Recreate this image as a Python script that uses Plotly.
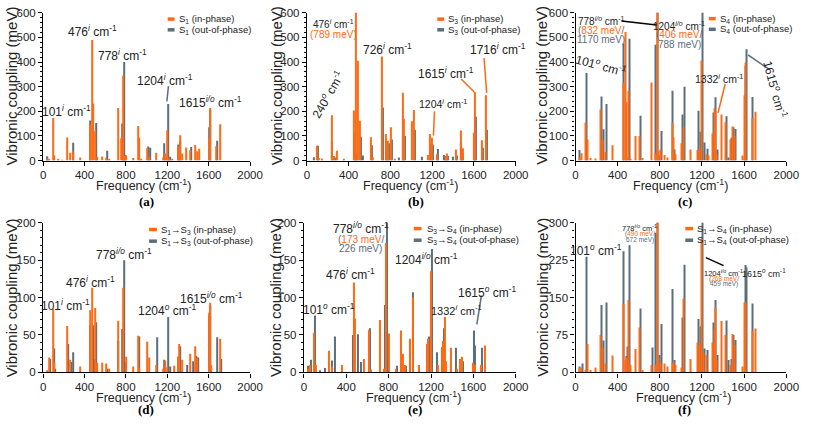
import plotly.graph_objects as go

# Shared vibrational mode frequencies (cm-1)
MODES = [38, 65, 85, 101, 115, 150, 190, 240, 265, 290, 360, 455, 476, 490, 510,
         530, 575, 615, 640, 726, 760, 778, 790, 810, 850, 875, 920, 935, 955, 1010,
         1030, 1095, 1165, 1180, 1190, 1204, 1220, 1250, 1270, 1305, 1320, 1332, 1345, 1390, 1430,
         1445, 1475, 1495, 1510, 1590, 1605, 1615, 1630, 1680, 1716]

A_IN = [3,6,0,173,20, 3,2,93,32,38, 12,145,490,232,120, 14,16,12,4,213, 90,345,18,20,0, 10,140,92,6,50,
        15,32,12,28,15, 123,5,7,0,57, 57,103,28,53,42, 0,63,38,48,0, 90,213,0,58,147]
A_OUT = [17,0,0,0,0, 0,0,0,0,72, 0,163,0,0,152, 0,0,40,0,0, 150,400,22,0,0, 0,0,0,0,57,
         52,0,70,0,0, 230,15,0,0,65, 78,0,0,0,55, 0,0,0,0,0, 135,205,0,80,0]
B_IN = [0,0,0,60,10, 8,0,184,18,40, 3,203,789,405,162, 0,0,95,13,422, 108,80,0,135,5, 0,275,170,0,160,
        205,0,22,108,0, 92,0,25,0,0, 0,18,28,0,45, 0,122,50,0,0, 113,278,0,82,265]
B_OUT = [0,13,0,60,0, 0,0,77,12,0, 0,113,25,0,97, 20,0,62,0,215, 78,70,0,85,0, 12,100,100,0,0,
         125,15,0,65,0, 65,0,47,0,22, 0,13,18,15,20, 0,70,30,0,0, 88,178,0,52,125]
C_IN = [12,30,0,153,85, 10,8,207,85,35, 62,315,522,238,282, 5,100,100,10,317, 30,832,40,45,22, 12,152,93,25,70,
        135,45,43,45,0, 406,0,25,20,110, 212,200,25,187,155, 0,85,138,100,20, 265,398,0,172,198]
C_OUT = [43,0,0,355,0, 0,0,260,127,230, 0,475,15,0,495, 0,0,182,0,0, 470,1170,20,120,0, 0,283,45,0,187,
         300,0,202,117,0, 788,73,48,0,195, 257,0,45,0,180, 12,92,135,128,0, 385,452,0,258,0]
D_IN = [3,20,0,85,13, 0,0,62,17,0, 8,83,113,0,86, 13,13,12,5,69, 0,113,0,21,0, 8,49,6,0,41,
        20,10,5,16,0, 7,0,0,9,21, 38,0,17,0,25, 0,35,20,0,0, 80,93,10,0,45]
D_OUT = [0,18,0,32,5, 0,0,38,14,27, 0,63,63,18,67, 0,0,5,0,42, 58,150,14,0,0, 0,48,0,0,0,
         0,47,17,0,0, 74,8,0,0,21, 35,0,0,10,0, 15,22,20,0,0, 76,89,0,47,18]
E_IN = [5,10,0,53,10, 0,0,29,8,0, 10,0,120,72,0, 0,18,57,4,70, 5,173,0,52,0, 5,56,25,10,45,
        100,10,38,45,0, 135,0,0,10,34, 42,74,15,33,0, 5,18,21,0,0, 13,10,0,10,36]
E_OUT = [9,17,0,76,0, 3,6,0,16,48, 0,50,0,0,51, 14,0,59,0,0, 90,226,15,0,0, 9,0,0,9,0,
         107,0,40,48,0, 165,0,27,0,0, 59,0,0,0,33, 0,0,15,0,0, 56,36,0,33,0]
F_IN = [8,10,0,5,57, 5,10,75,50,18, 34,137,25,30,145, 15,47,90,5,15, 15,490,30,20,18, 12,20,20,15,10,
        148,27,60,55,0, 268,40,35,0,60, 87,130,25,103,75, 0,15,77,55,12, 140,140,0,83,88]
F_OUT = [12,18,0,232,0, 0,0,135,64,140, 0,243,33,52,255, 0,0,128,0,50, 280,672,35,97,0, 0,167,25,0,110,
         216,0,107,92,0, 459,48,45,0,100, 145,0,35,0,104, 25,27,75,65,0, 215,210,0,138,0]

STATES = ["S<sub>1</sub>", "S<sub>3</sub>", "S<sub>4</sub>",
          "S<sub>1</sub>→S<sub>3</sub>", "S<sub>3</sub>→S<sub>4</sub>", "S<sub>1</sub>→S<sub>4</sub>"]
PANEL_LABELS = ["(a)", "(b)", "(c)", "(d)", "(e)", "(f)"]
Y_MAX = [600, 600, 600, 200, 200, 300]
Y_DTICK = [100, 100, 100, 50, 50, 75]
X_TICKS = [0, 400, 800, 1200, 1600, 2000]
X_TITLE = "Frequency (cm<sup>-1</sup>)"
Y_TITLE = "Vibronic coupling (meV)"

ORANGE = "#FF6A13"
GRAY = "#5B6E7B"
TXT = "#222222"
FONT = "Liberation Sans, Arial, sans-serif"

W, H = 813, 426
# plot areas in pixels: (x0, x1, ytop, ybottom)
BOXES = [(41, 252, 7, 159), (310, 523, 7, 159), (584, 799, 7, 159),
         (41, 252, 223, 377), (307, 523, 223, 377), (584, 799, 223, 377)]
# legend placement: symbol x0, x1, text x, row1 y, row2 y (pixels)
LEG = [(168, 175, 177, 13.5, 24.5), (443, 450, 452, 13.5, 24.5), (720, 727, 729, 13, 24),
       (149, 157, 159, 230, 242), (419, 427, 430, 229, 241), (696, 704, 706, 229, 241)]
# title positions (pixels): x-title center, y-title center, panel label center
XT = [(143, 184), (416, 184), (691, 184), (143, 402), (419, 402), (694, 402)]
YT = [(9, 82), (279, 82), (550, 82), (9, 300), (278, 300), (550, 300)]
PL = [(146, 201), (421, 201), (696, 201), (146, 415), (420, 415), (695, 415)]

data = [(A_IN, A_OUT), (B_IN, B_OUT), (C_IN, C_OUT), (D_IN, D_OUT), (E_IN, E_OUT), (F_IN, F_OUT)]


def px(x):
    return x / W


def py(y):
    return 1 - y / H


fig = go.Figure()
layout = {}
annotations = []
shapes = []
for i, ((vin, vout), state) in enumerate(zip(data, STATES)):
    s = "" if i == 0 else str(i + 1)
    fig.add_trace(go.Bar(x=MODES, y=vout, width=10, offset=-1, marker=dict(color=GRAY, line=dict(width=0)),
                         name=f"{state} (out-of-phase)", xaxis="x" + s, yaxis="y" + s, showlegend=False))
    fig.add_trace(go.Bar(x=MODES, y=vin, width=10, offset=-9, marker=dict(color=ORANGE, line=dict(width=0)),
                         name=f"{state} (in-phase)", xaxis="x" + s, yaxis="y" + s, showlegend=False))
    x0, x1, yt, yb = BOXES[i]
    axstyle = dict(showline=True, linecolor="black", linewidth=1.3, ticks="outside", ticklen=4,
                   tickwidth=1.3, tickcolor="black", showgrid=False, zeroline=False,
                   tickfont=dict(size=11.5, color=TXT, family=FONT))
    layout["xaxis" + s] = dict(domain=[px(x0), px(x1)], anchor="y" + s, range=[0, 2000],
                               tickvals=X_TICKS, **axstyle)
    layout["yaxis" + s] = dict(domain=[py(yb), py(yt)], anchor="x" + s, range=[0, Y_MAX[i]],
                               tick0=0, dtick=Y_DTICK[i],
                               minor=dict(ticks="outside", ticklen=2, tickwidth=1, tickcolor="black",
                                          dtick=Y_DTICK[i] / 5, showgrid=False),
                               **axstyle)
    # legend (drawn by hand, small bar keys)
    sx0, sx1, tx, r1, r2 = LEG[i]
    for (ry, col, name) in [(r1, ORANGE, f"{state} (in-phase)"), (r2, GRAY, f"{state} (out-of-phase)")]:
        shapes.append(dict(type="rect", xref="paper", yref="paper", x0=px(sx0), x1=px(sx1),
                           y0=py(ry + 1.8), y1=py(ry - 1.8), fillcolor=col, line=dict(width=0)))
        annotations.append(dict(x=px(tx), y=py(ry), xref="paper", yref="paper", text=name,
                                showarrow=False, xanchor="left", yanchor="middle",
                                font=dict(size=9.5, color=TXT, family=FONT)))
    annotations.append(dict(x=px(XT[i][0]), y=py(XT[i][1]), xref="paper", yref="paper", text=X_TITLE,
                            showarrow=False, xanchor="center", yanchor="middle",
                            font=dict(size=12.5, color=TXT, family=FONT)))
    annotations.append(dict(x=px(YT[i][0]), y=py(YT[i][1]), xref="paper", yref="paper", text=Y_TITLE,
                            showarrow=False, xanchor="center", yanchor="middle", textangle=-90,
                            font=dict(size=15, color=TXT, family=FONT)))
    annotations.append(dict(x=px(PL[i][0]), y=py(PL[i][1]), xref="paper", yref="paper",
                            text=f"<b>{PANEL_LABELS[i]}</b>", showarrow=False,
                            xanchor="center", yanchor="middle",
                            font=dict(size=13, color="black", family="Liberation Serif, Times New Roman, serif")))

fig.update_layout(**layout)


def lab(num, sup):
    return f"{num}<sup><i>{sup}</i></sup> cm<sup>-1</sup>"


def mev(a, b=None):
    if b is None:
        return f"(<span style='color:{ORANGE}'>{a}</span>)"
    return f"(<span style='color:{ORANGE}'>{a}</span>/"


# (panel index, x, y, text, size, angle, color)
ANN = [
    (0, 227, 200, lab("101", "i"), 12, 0, TXT),
    (0, 480, 526, lab("476", "i"), 12, 0, TXT),
    (0, 763, 429, lab("778", "i"), 12, 0, TXT),
    (0, 1180, 328, lab("1204", "i"), 12, 0, TXT),
    (0, 1621, 237, lab("1615", "i/o"), 12, 0, TXT),
    (1, 259, 554, lab("476", "i"), 10, 0, TXT),
    (1, 259, 512, mev("789 meV"), 10, 0, ORANGE),
    (1, 769, 455, lab("726", "i"), 12, 0, TXT),
    (1, 197, 272, lab("240", "o"), 12, -60, TXT),
    (1, 1831, 455, lab("1716", "i"), 12, 0, TXT),
    (1, 1337, 357, lab("1615", "i"), 12, 0, TXT),
    (1, 1300, 230, lab("1204", "i"), 10.5, 0, TXT),
    (2, 242, 567, lab("778", "i/o"), 10, 0, TXT),
    (2, 242, 528, mev("832 meV", 1), 10, 0, GRAY),
    (2, 242, 491, "1170 meV)", 10, 0, GRAY),
    (2, 986, 547, lab("1204", "i/o"), 10, 0, TXT),
    (2, 986, 510, mev("406 meV", 1), 10, 0, GRAY),
    (2, 986, 472, "788 meV)", 10, 0, GRAY),
    (2, 242, 386, lab("101", "o"), 12, 15, TXT),
    (2, 1364, 335, lab("1332", "i"), 10.5, 0, TXT),
    (2, 1901, 287, lab("1615", "o"), 12, 75, TXT),
    (3, 211, 90, lab("101", "i"), 12, 0, TXT),
    (3, 457, 121, lab("476", "i"), 12, 0, TXT),
    (3, 785, 158, lab("778", "i/o"), 12, 0, TXT),
    (3, 1205, 84, lab("1204", "o"), 12, 0, TXT),
    (3, 1625, 100, lab("1615", "i/o"), 12, 0, TXT),
    (4, 536, 193, lab("778", "i/o"), 12, 0, TXT),
    (4, 536, 178, mev("173 meV", 1), 10, 0, GRAY),
    (4, 536, 166, "226 meV)", 10, 0, GRAY),
    (4, 444, 132, lab("476", "i"), 12, 0, TXT),
    (4, 1153, 152, lab("1204", "i/o"), 12, 0, TXT),
    (4, 237, 85, lab("101", "o"), 12, 0, TXT),
    (4, 1439, 84, lab("1332", "i"), 11, 0, TXT),
    (4, 1732, 108, lab("1615", "o"), 12, 0, TXT),
    (5, 195, 245, lab("101", "o"), 12, 0, TXT),
    (5, 609, 289, lab("778", "i/o"), 7.5, 0, TXT),
    (5, 609, 277, mev("490 meV", 1), 6.5, 0, GRAY),
    (5, 609, 266, "672 meV)", 6.5, 0, GRAY),
    (5, 1406, 199, lab("1204", "i/o"), 7.5, 0, TXT),
    (5, 1406, 188, mev("268 meV", 1), 6.5, 0, GRAY),
    (5, 1406, 177, "459 meV)", 6.5, 0, GRAY),
    (5, 1787, 199, lab("1615", "o"), 9, 0, TXT),
]

# (panel index, x0, y0, x1, y1, color)
LINES = [
    (0, 1211, 302, 1196, 240, GRAY),
    (1, 1697, 416, 1722, 274, ORANGE),
    (1, 1478, 331, 1603, 278, ORANGE),
    (1, 1222, 200, 1212, 101, ORANGE),
    (2, 437, 567, 769, 550, "black"),
    (2, 1420, 311, 1352, 193, ORANGE),
    (2, 1637, 429, 1839, 370, GRAY),
    (4, 1676, 103, 1633, 64, GRAY),
    (5, 1237, 230, 1405, 214, "black"),
]

for p, x, y, t, sz, ang, col in ANN:
    s = "" if p == 0 else str(p + 1)
    annotations.append(dict(x=x, y=y, xref="x" + s, yref="y" + s, text=t, showarrow=False,
                            textangle=ang, xanchor="center", yanchor="middle",
                            font=dict(size=sz, color=col, family=FONT)))

for p, x0, y0, x1, y1, col in LINES:
    s = "" if p == 0 else str(p + 1)
    shapes.append(dict(type="line", xref="x" + s, yref="y" + s, x0=x0, y0=y0, x1=x1, y1=y1,
                       line=dict(color=col, width=1.5)))

fig.update_layout(width=W, height=H, margin=dict(l=0, r=0, t=0, b=0), barmode="overlay",
                  paper_bgcolor="white", plot_bgcolor="white",
                  font=dict(family=FONT, color=TXT), annotations=annotations, shapes=shapes,
                  showlegend=False)

fig.write_html("out.html")
